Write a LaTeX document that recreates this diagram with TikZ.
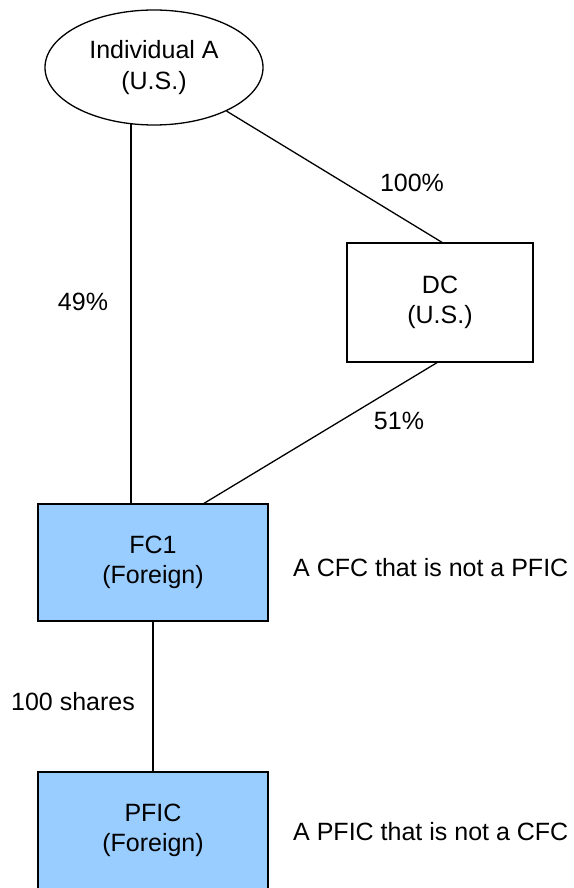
\documentclass[tikz,border=0pt]{standalone}
\usepackage{fontspec}
\setmainfont{Liberation Sans}
\usetikzlibrary{shapes.geometric}
\begin{document}
\begin{tikzpicture}[x=1pt,y=-1pt,
  txt/.style={font=\fontsize{25}{30.5}\selectfont, align=center, inner sep=0pt},
  ent/.style={txt, draw=black, line width=1.3pt},
  fbox/.style={ent, rectangle, fill=fcblue, minimum width=230pt, minimum height=117pt},
  ubox/.style={ent, rectangle, fill=white, minimum width=186pt, minimum height=119pt},
  link/.style={line width=1.3pt, draw=black}]
\definecolor{fcblue}{HTML}{99CCFF}
\useasboundingbox (0,0) rectangle (573,888);
\clip (0,0) rectangle (573,888);
\node[ent, ellipse, minimum width=218pt, minimum height=115pt] (A) at (154,67.5) {Individual A\\(U.S.)};
\node[ubox] (DC) at (440,302.5) {DC\\(U.S.)};
\node[fbox] (FC1) at (153,562.5) {FC1\\(Foreign)};
\node[fbox] (PFIC) at (153,830.5) {PFIC\\(Foreign)};
\draw[link] (A.248.7) -- (A.248.7 |- FC1.north);
\draw[link] (A.-31) -- ([xshift=2pt]DC.north);
\draw[link] ([xshift=-3pt]DC.south) -- ([xshift=51pt]FC1.north);
\draw[link] (FC1.south) -- (PFIC.north);
\node[txt] (l100) at (412,183) {100\%};
\node[txt] (l49) at (83,302) {49\%};
\node[txt] (l51) at (399,421) {51\%};
\node[txt] (lsh) at (73,702) {100 shares};
\node[txt, anchor=west] (n1) at (293,568) {A CFC that is not a PFIC};
\node[txt, anchor=west] (n2) at (293,832) {A PFIC that is not a CFC};
\end{tikzpicture}
\end{document}
